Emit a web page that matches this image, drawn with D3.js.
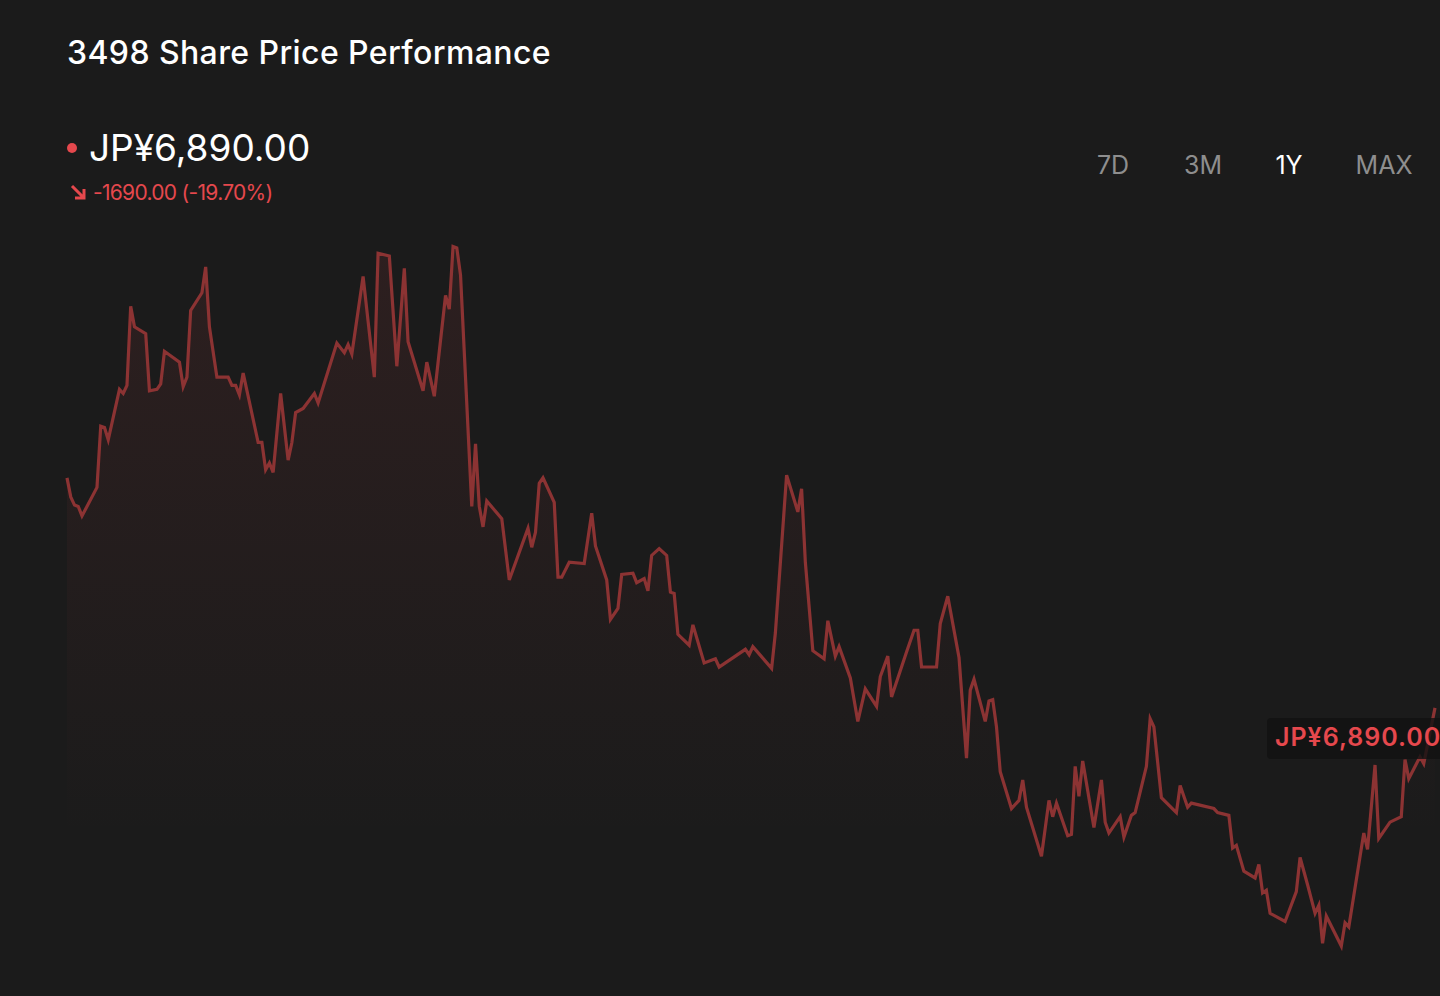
<!DOCTYPE html>
<html>
<head>
<meta charset="utf-8">
<script src="https://cdn.jsdelivr.net/npm/d3@7"></script>
<style>
  html, body { margin: 0; padding: 0; background: #1b1b1b; }
  svg { display: block; font-family: Inter, "Noto Sans", sans-serif; }
</style>
</head>
<body>
<script>
// 1Y price series, days since start of the window
var days = [0, 1, 2, 3, 4, 8, 9, 10, 11, 14, 15, 16, 17, 18, 21, 22, 24, 25, 26, 30,
  31, 32, 33, 36, 37, 38, 40, 43, 44, 45, 46, 47, 51, 52, 53, 54, 55, 57, 59, 60,
  61, 63, 66, 67, 72, 74, 75, 76, 79, 82, 83, 86, 88, 90, 91, 95, 96, 98, 101, 102,
  103, 104, 105, 108, 109, 110, 111, 112, 116, 118, 123, 124, 125, 126, 127, 130, 131, 132, 134, 138,
  140, 141, 144, 145, 147, 148, 151, 152, 154, 155, 156, 158, 160, 161, 162, 163, 166, 167, 170, 173,
  174, 181, 182, 183, 188, 189, 192, 195, 196, 197, 199, 202, 203, 205, 206, 209, 211, 213, 216, 217,
  219, 220, 224, 226, 227, 228, 232, 233, 235, 238, 240, 241, 242, 245, 246, 247, 248, 249, 252, 254,
  255, 256, 260, 262, 263, 264, 267, 268, 269, 270, 271, 274, 276, 277, 278, 281, 282, 284, 285, 288,
  289, 290, 292, 296, 297, 299, 300, 306, 307, 310, 311, 312, 314, 317, 318, 319, 320, 321, 325, 328,
  329, 331, 333, 334, 335, 336, 340, 341, 342, 346, 347, 349, 350, 353, 356, 357, 358, 361, 362, 365];

var prices = [8580, 8440, 8380, 8370, 8300, 8510, 8960, 8950, 8860, 9230, 9200, 9260, 9840, 9690, 9640, 9220, 9230, 9270, 9510, 9430,
  9250, 9320, 9810, 9940, 10130, 9690, 9320, 9320, 9260, 9260, 9190, 9350, 8840, 8840, 8640, 8690, 8620, 9200, 8710, 8840,
  9060, 9090, 9200, 9130, 9570, 9500, 9560, 9490, 10060, 9320, 10230, 10210, 9400, 10120, 9580, 9220, 9430, 9180, 9920, 9820,
  10280, 10270, 10070, 8370, 8830, 8370, 8220, 8410, 8280, 7830, 8210, 8070, 8180, 8540, 8580, 8400, 7850, 7850, 7960, 7950,
  8320, 8080, 7830, 7540, 7620, 7870, 7880, 7810, 7840, 7750, 8010, 8060, 8010, 7740, 7730, 7430, 7350, 7500, 7220, 7250,
  7190, 7320, 7280, 7340, 7180, 7440, 8600, 8330, 8500, 7960, 7310, 7250, 7530, 7270, 7340, 7110, 6790, 7030, 6900, 7120,
  7270, 6970, 7300, 7460, 7460, 7190, 7190, 7510, 7710, 7260, 6520, 7020, 7100, 6790, 6940, 6950, 6750, 6420, 6150, 6210,
  6360, 6160, 5800, 6210, 6090, 6190, 5950, 5960, 6460, 6240, 6500, 6010, 6360, 6050, 5970, 6090, 5940, 6100, 6120, 6460,
  6810, 6750, 6230, 6120, 6320, 6160, 6190, 6150, 6120, 6100, 5860, 5880, 5690, 5640, 5740, 5530, 5550, 5380, 5320, 5540,
  5790, 5590, 5380, 5440, 5160, 5360, 5140, 5310, 5280, 5970, 5850, 6470, 5930, 6050, 6090, 6510, 6370, 6530, 6480, 6890];

var ranges = ["7D", "3M", "1Y", "MAX"];
var rangePos = [1113, 1203, 1289, 1384]; //centres of the range buttons
var activeRange = "1Y";

var stockCode = "3498";
var currency = "JP¥";

var width = 1440,
    height = 996;

var svg = d3.select("body")
  .append("svg")
  .attr("width", width)
  .attr("height", height);

var data = days.map(function(d, i){ return {day: d, price: prices[i]}; });

var lastPrice = prices[prices.length - 1],
    firstPrice = prices[0],
    change = lastPrice - firstPrice,
    changePct = change / firstPrice * 100;

//plain hyphen for negatives, like the original
var locale = d3.formatLocale({decimal: ".", thousands: ",", grouping: [3], currency: ["", ""], minus: "-"});
var fmtPrice = locale.format(",.2f"),
    fmtChange = locale.format(".2f");

//scales
var x = d3.scaleLinear()
  .domain([0, 365])
  .range([67, 1435]);

var y = d3.scaleLinear()
  .domain(d3.extent(prices))
  .range([946, 246.5]);

//gradient for the area under the line
var defs = svg.append("defs");
var grad = defs.append("linearGradient")
  .attr("id", "areaFade")
  .attr("gradientUnits", "userSpaceOnUse")
  .attr("x1", 0).attr("y1", 120)
  .attr("x2", 0).attr("y2", 840);
grad.append("stop").attr("offset", "0%").attr("stop-color", "#e5484d").attr("stop-opacity", 0.11);
grad.append("stop").attr("offset", "100%").attr("stop-color", "#e5484d").attr("stop-opacity", 0);

var area = d3.area()
  .x(function(d){ return x(d.day); })
  .y0(946)
  .y1(function(d){ return y(d.price); });

var line = d3.line()
  .x(function(d){ return x(d.day); })
  .y(function(d){ return y(d.price); });

svg.append("path")
  .datum(data)
  .attr("d", area)
  .attr("fill", "url(#areaFade)");

svg.append("path")
  .datum(data)
  .attr("d", line)
  .attr("fill", "none")
  .attr("stroke", "#8c3333")
  .attr("stroke-width", 3.2)
  .attr("stroke-linejoin", "miter")
  .attr("stroke-miterlimit", 4);

//title
svg.append("text")
  .attr("x", 67)
  .attr("y", 64)
  .attr("fill", "#ffffff")
  .attr("font-size", 32)
  .attr("font-weight", 500)
  .attr("letter-spacing", 0.4)
  .text(stockCode + " Share Price Performance");

//current price
svg.append("circle")
  .attr("cx", 72)
  .attr("cy", 148)
  .attr("r", 5)
  .attr("fill", "#e5484d");

svg.append("text")
  .attr("x", 89)
  .attr("y", 161)
  .attr("fill", "#ffffff")
  .attr("font-size", 37)
  .attr("font-weight", 400)
  .text(currency + fmtPrice(lastPrice));

//change arrow
svg.append("path")
  .attr("d", "M72,186 L83,197 M75,198 L84,198 L84,189")
  .attr("fill", "none")
  .attr("stroke", "#e5484d")
  .attr("stroke-width", 3);

svg.append("text")
  .attr("x", 93)
  .attr("y", 200)
  .attr("fill", "#e5484d")
  .attr("font-size", 21)
  .attr("letter-spacing", -0.7)
  .text(fmtChange(change) + " (" + fmtChange(changePct) + "%)");

//range buttons
svg.selectAll(".range")
  .data(ranges)
  .enter()
  .append("text")
  .attr("class", "range")
  .attr("x", function(d, i){ return rangePos[i]; })
  .attr("y", 174)
  .attr("text-anchor", "middle")
  .attr("font-size", 25)
  .attr("fill", function(d){ return d === activeRange ? "#ffffff" : "#8e8e8e"; })
  .text(function(d){ return d; });

//last price tag
svg.append("rect")
  .attr("x", 1267)
  .attr("y", 718)
  .attr("width", 190)
  .attr("height", 41)
  .attr("rx", 4)
  .attr("fill", "#121212")
  .attr("fill-opacity", 0.8);

svg.append("text")
  .attr("x", 1275)
  .attr("y", 746)
  .attr("fill", "#e5484d")
  .attr("font-size", 25)
  .attr("font-weight", 600)
  .attr("letter-spacing", 1)
  .text(currency + fmtPrice(lastPrice));
</script>
</body>
</html>
